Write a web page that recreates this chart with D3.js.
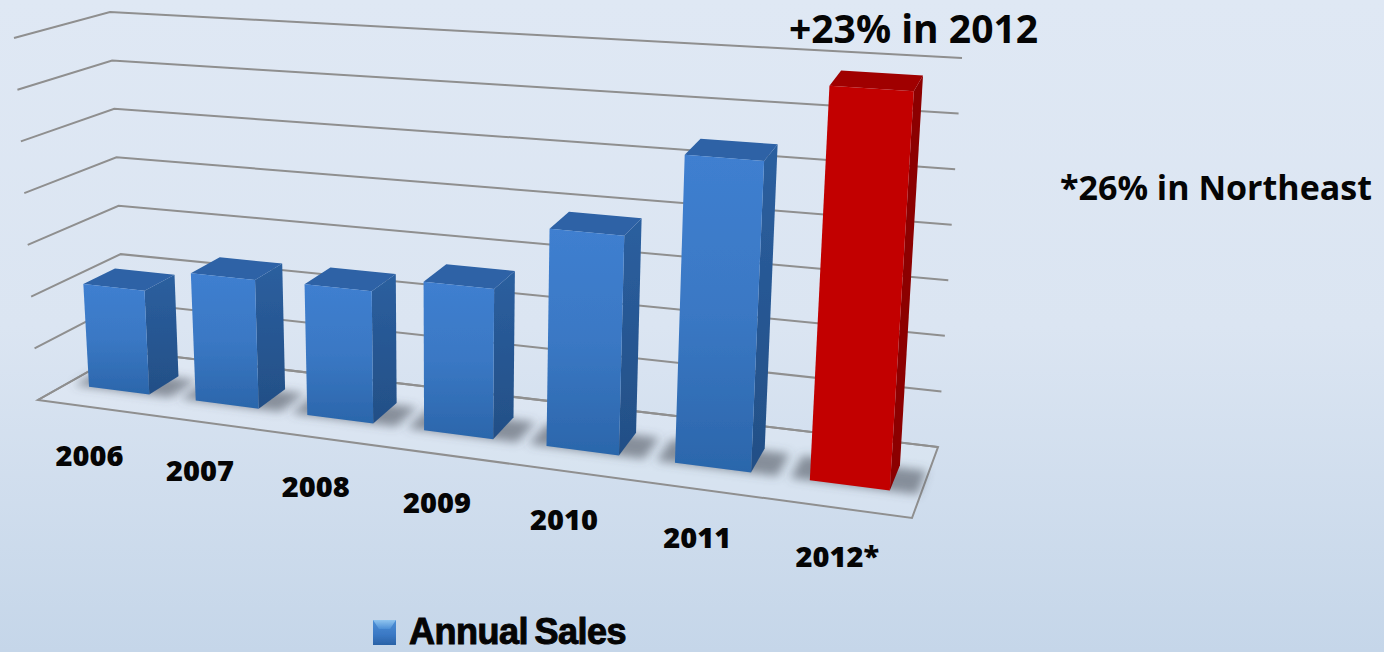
<!DOCTYPE html>
<html>
<head>
<meta charset="utf-8">
<script src="https://cdn.jsdelivr.net/npm/d3@7"></script>
<style>
  html, body { margin: 0; padding: 0; overflow: hidden; }
  text { fill: #050505; font-family: "Open Sans", sans-serif; font-weight: 700; }
</style>
</head>
<body>
<script>
// values, in gridline steps (the chart has no value axis)
const years = ['2006', '2007', '2008', '2009', '2010', '2011', '2012*'];
const annualSales = [2.02, 2.46, 2.48, 2.76, 3.96, 5.5, 6.9];
const gridLevels = [0, 1, 2, 3, 4, 5, 6, 7];
const legendLabel = 'Annual Sales';
const callout = '+23% in 2012';
const footnote = '*26% in Northeast';

const width = 1384;
const height = 652;

// corners of the 3d box on screen, floor and top
const floor = { fl: [38, 400], fr: [912, 518], bl: [125, 351], br: [938, 447] };
const top_ = { fl: [14, 38], fr: [939, 102], bl: [110, 12], br: [962, 58] };

const xScale = d3.scaleBand().domain(years).range([0, 1]).paddingInner(0.43).paddingOuter(0.215);
const yScale = d3.scaleLinear().domain([0, 7]).range([0, 1]);

// foreshortening along the front edge
const warp = t => t / (t + 1.18 * (1 - t));

function project(t, w, h) {
  const p = warp(t);
  const mix = c => [0, 1].map(k => {
    const front = c.fl[k] + (c.fr[k] - c.fl[k]) * p;
    const back = c.bl[k] + (c.br[k] - c.bl[k]) * p;
    return front + (back - front) * w;
  });
  const a = mix(floor), b = mix(top_);
  return [a[0] + (b[0] - a[0]) * h, a[1] + (b[1] - a[1]) * h];
}

const svg = d3.select('body').append('svg')
  .attr('width', width)
  .attr('height', height)
  .style('display', 'block');

const defs = svg.append('defs');

function gradient(id, stops, x2, y2) {
  const g = defs.append('linearGradient').attr('id', id)
    .attr('x1', 0).attr('y1', 0).attr('x2', x2).attr('y2', y2);
  stops.forEach(s => g.append('stop').attr('offset', s[0]).attr('stop-color', s[1]));
}
gradient('bg', [[0, '#dfe8f4'], [0.5, '#dbe5f2'], [1, '#c5d6e9']], 0, 1);
gradient('blueFront', [[0, '#3f7fd0'], [0.5, '#3a78c4'], [1, '#2b66ab']], 0, 1);
gradient('blueSide', [[0, '#2b5f9f'], [1, '#234f86']], 0, 1);
gradient('swatch', [[0, '#4d8fd6'], [0.6, '#3a78c4'], [1, '#2a62a6']], 0, 1);
gradient('swatchTop', [[0, '#8fc4ef'], [1, '#4d8fd6']], 0, 1);

defs.append('filter').attr('id', 'soft').append('feGaussianBlur').attr('stdDeviation', 0.7);
defs.append('filter').attr('id', 'shadow')
  .attr('x', '-30%').attr('y', '-50%').attr('width', '160%').attr('height', '200%')
  .append('feGaussianBlur').attr('stdDeviation', 5);

svg.append('rect').attr('width', width).attr('height', height).attr('fill', 'url(#bg)');

const poly = pts => pts.map(p => p.join(',')).join(' ');

// floor
svg.append('polygon')
  .attr('points', poly([floor.fl, floor.fr, floor.br, floor.bl]))
  .attr('fill', '#fff').attr('fill-opacity', 0.14)
  .attr('stroke', '#8f8f8f').attr('stroke-width', 2).attr('filter', 'url(#soft)');

// walls: one bent line per level
svg.append('g').attr('filter', 'url(#soft)')
  .selectAll('polyline')
  .data(gridLevels)
  .enter()
  .append('polyline')
  .attr('points', d => poly([
    project(0, 0, yScale(d)),
    project(0, 1, yScale(d)),
    project(1, 1, yScale(d))
  ]))
  .attr('fill', 'none')
  .attr('stroke', '#8f8f8f')
  .attr('stroke-width', 2);

const wFront = 0.33;
const wBack = 0.69;

// shadows on the floor
svg.append('g').selectAll('polygon')
  .data(years)
  .enter()
  .append('polygon')
  .attr('points', d => {
    const a = xScale(d) - 0.02, b = xScale(d) + xScale.bandwidth() + 0.028;
    return poly([
      project(a, wFront - 0.005, 0), project(b, wFront - 0.005, 0),
      project(b, wBack - 0.03, 0), project(a, wBack - 0.03, 0)
    ]);
  })
  .attr('fill', '#50565f')
  .attr('fill-opacity', 0.6)
  .attr('filter', 'url(#shadow)');

// bars
const bars = svg.append('g').attr('filter', 'url(#soft)')
  .selectAll('g')
  .data(years)
  .enter()
  .append('g');

const isLast = i => i === years.length - 1;

bars.each(function(d, i) {
  const a = xScale(d), b = a + xScale.bandwidth();
  const h = yScale(annualSales[i]);
  const g = d3.select(this);
  // side
  g.append('polygon')
    .attr('points', poly([project(b, wFront, 0), project(b, wBack, 0), project(b, wBack, h), project(b, wFront, h)]))
    .attr('fill', isLast(i) ? '#8c0000' : 'url(#blueSide)');
  // top
  g.append('polygon')
    .attr('points', poly([project(a, wFront, h), project(b, wFront, h), project(b, wBack, h), project(a, wBack, h)]))
    .attr('fill', isLast(i) ? '#a00000' : '#2d62a6');
  // front
  g.append('polygon')
    .attr('points', poly([project(a, wFront, 0), project(b, wFront, 0), project(b, wFront, h), project(a, wFront, h)]))
    .attr('fill', isLast(i) ? '#c20000' : 'url(#blueFront)');
});

// year labels sit under the front edge of the floor
svg.append('g').selectAll('text')
  .data(years)
  .enter()
  .append('text')
  .attr('x', d => project(xScale(d) + xScale.bandwidth() / 2, 0, 0)[0] - 2)
  .attr('y', d => project(xScale(d) + xScale.bandwidth() / 2, 0, 0)[1] + 59)
  .attr('text-anchor', 'middle')
  .style('font-size', '29px')
  .style('font-weight', 800)
  .text(d => d);

svg.append('text').attr('x', 789).attr('y', 43)
  .style('font-size', '39px')
  .text(callout);

svg.append('text').attr('x', 1060).attr('y', 200)
  .style('font-size', '34px')
  .text(footnote);

// legend
const swatch = svg.append('g').attr('filter', 'url(#soft)');
swatch.append('rect').attr('x', 373).attr('y', 620).attr('width', 23).attr('height', 25)
  .attr('fill', 'url(#swatch)');
swatch.append('polygon').attr('points', '373,620 396,620 390,629 379,629')
  .attr('fill', 'url(#swatchTop)');

svg.append('text').attr('x', 409).attr('y', 644)
  .style('font-family', '"Liberation Sans", sans-serif')
  .style('font-size', '36px')
  .style('stroke', '#050505')
  .style('stroke-width', '1px')
  .style('word-spacing', '-3px')
  .style('letter-spacing', '-0.5px')
  .text(legendLabel);
</script>
</body>
</html>
